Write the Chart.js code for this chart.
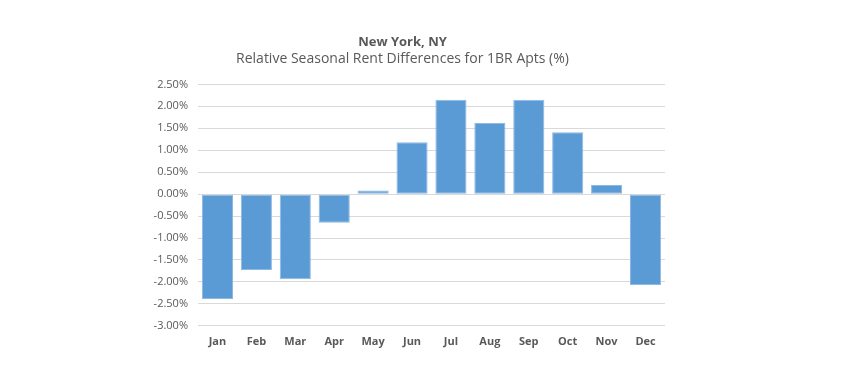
<!DOCTYPE html>
<html>
<head>
<meta charset="utf-8">
<script src="https://cdn.jsdelivr.net/npm/chart.js@4"></script>
<style>
  html, body { margin: 0; padding: 0; background: #fff; }
  #wrap { width: 862px; height: 376px; }
</style>
</head>
<body>
<div id="wrap"><canvas id="rentChart" width="862" height="376"></canvas></div>
<script>
    // data
    var months = ["Jan", "Feb", "Mar", "Apr", "May", "Jun", "Jul", "Aug", "Sep", "Oct", "Nov", "Dec"];
    var rentDiff = [-2.39, -1.73, -1.94, -0.65, 0.08, 1.18, 2.15, 1.62, 2.15, 1.41, 0.21, -2.07];
    var yMin = -3.0;
    var yMax = 2.5;
    var yStep = 0.5;

    var grey = '#595959';
    var fontFamily = '"Open Sans", "Liberation Sans", sans-serif';

    window.onload = function () {
        var ctx = document.getElementById("rentChart").getContext("2d");
        window.myBar = new Chart(ctx, {
            type: 'bar',
            data: {
                labels: months,
                datasets: [{
                    label: 'Rent difference',
                    data: rentDiff,
                    backgroundColor: '#5B9BD5',
                    borderColor: '#8DB9E3',
                    borderWidth: 1,
                    borderSkipped: false,
                    barPercentage: 0.8,
                    categoryPercentage: 1.0
                }]
            },
            options: {
                responsive: false,
                animation: false,
                layout: {
                    padding: { left: 140, right: 197, top: 34, bottom: 27 }
                },
                plugins: {
                    legend: { display: false },
                    tooltip: { enabled: false },
                    title: {
                        display: true,
                        text: 'New York, NY',
                        color: grey,
                        font: { family: fontFamily, size: 13, weight: 'bold' },
                        padding: { top: 0, bottom: 1 }
                    },
                    subtitle: {
                        display: true,
                        text: 'Relative Seasonal Rent Differences for 1BR Apts (%)',
                        color: grey,
                        font: { family: fontFamily, size: 14 },
                        padding: { top: 0, bottom: 17 }
                    }
                },
                scales: {
                    x: {
                        grid: { display: false },
                        border: { display: false },
                        ticks: {
                            color: grey,
                            font: { family: fontFamily, size: 11, weight: 'bold' },
                            padding: 1
                        }
                    },
                    y: {
                        min: yMin,
                        max: yMax,
                        afterFit: function (scale) { scale.width = 58; },
                        grid: { color: '#D9D9D9', lineWidth: 1, drawTicks: false },
                        border: { display: false },
                        ticks: {
                            stepSize: yStep,
                            color: grey,
                            padding: 10,
                            font: { family: fontFamily, size: 11 },
                            callback: function (v) { return v.toFixed(2) + '%'; }
                        }
                    }
                }
            }
        });
    };
</script>
</body>
</html>
